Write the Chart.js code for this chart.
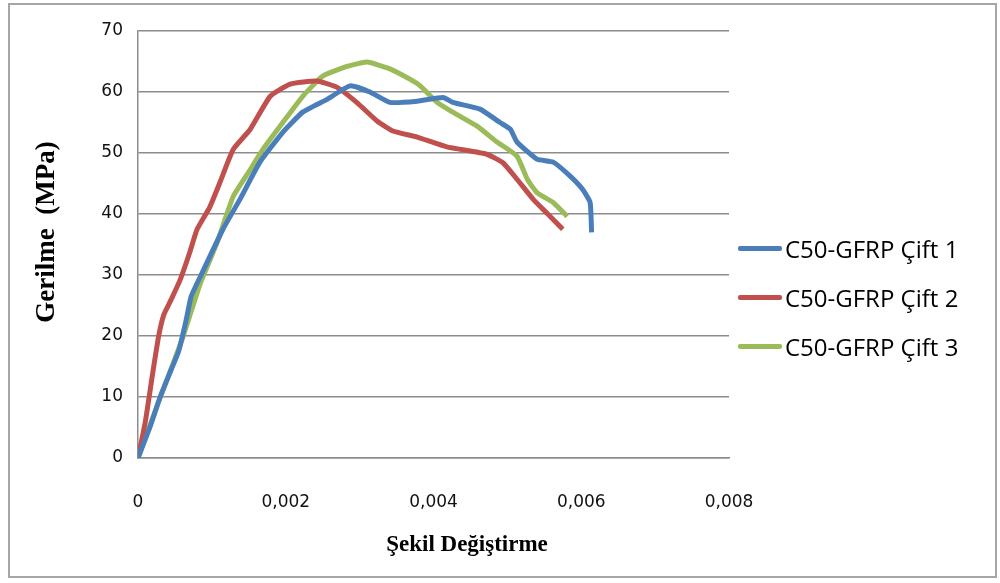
<!DOCTYPE html>
<html>
<head>
<meta charset="utf-8">
<script src="https://cdn.jsdelivr.net/npm/chart.js@4"></script>
<style>
  body { margin: 0; background: #fff; }
  #wrap { position: relative; width: 1000px; height: 583px; }
  #frame { position: absolute; left: 8px; top: 3px; width: 985px; height: 571px; border: 2px solid #a6a6a6; pointer-events: none; }
  #legend { position: absolute; left: 738px; top: 224px; font-family: "Open Sans", sans-serif; font-size: 24px; color: #000; }
  #legend div { display: flex; align-items: center; height: 49px; }
  #legend span.sw { display: inline-block; width: 44px; height: 5px; border-radius: 2px; margin-right: 3px; }
</style>
</head>
<body>
<div id="wrap">
  <canvas id="chart" width="1000" height="583"></canvas>
  <div id="frame"></div>
  <div id="legend"></div>
</div>
<script>
const seriesNames = ['C50-GFRP Çift 1', 'C50-GFRP Çift 2', 'C50-GFRP Çift 3'];
const seriesColors = ['#4a7ebb', '#c0504d', '#9bbb59'];

const strain1 = [0, 0.00016, 0.0003, 0.00045, 0.00055, 0.00065, 0.00072, 0.00087, 0.00115, 0.00138, 0.00165, 0.00196, 0.00223, 0.00256, 0.00287, 0.00314, 0.00341, 0.00378, 0.00413, 0.00426, 0.00463, 0.0049, 0.00504, 0.00513, 0.0054, 0.00562, 0.00585, 0.00602, 0.00612, 0.00614];
const stress1 = [0, 5, 10, 14.5, 17.5, 22.5, 26.5, 30.4, 37.5, 42.4, 48.5, 53.4, 56.7, 58.8, 61, 60, 58.3, 58.5, 59.1, 58.3, 57.2, 55, 53.9, 51.8, 49, 48.5, 46.2, 44, 41.9, 37];

const strain2 = [0, 0.0001, 0.0002, 0.00028, 0.00035, 0.00045, 0.00057, 0.0007, 0.0008, 0.00097, 0.00111, 0.00129, 0.00152, 0.00179, 0.00206, 0.00242, 0.00269, 0.00296, 0.00324, 0.00345, 0.00378, 0.00418, 0.00472, 0.00494, 0.00513, 0.00535, 0.00553, 0.00575];
const stress2 = [0, 6, 14, 20, 23.5, 26, 29.2, 33.7, 37.5, 41.1, 45.2, 50.6, 53.9, 59.3, 61.3, 61.8, 60.8, 58.3, 55.2, 53.6, 52.6, 51, 49.8, 48.4, 45.7, 42.4, 40.2, 37.5];

const strain3 = [0, 0.00016, 0.00034, 0.00047, 0.00061, 0.00084, 0.00107, 0.00129, 0.00152, 0.00169, 0.00196, 0.00223, 0.0025, 0.00283, 0.0031, 0.00341, 0.00368, 0.00382, 0.00405, 0.00426, 0.00459, 0.00486, 0.00513, 0.00527, 0.0054, 0.00562, 0.00581];
const stress3 = [0, 5.3, 11.2, 15.3, 19.9, 28.5, 35.3, 42.9, 47.3, 50.6, 55, 59.3, 62.6, 64.2, 64.9, 63.8, 62.1, 61, 58.3, 56.7, 54.4, 51.8, 49.5, 45.7, 43.5, 41.9, 39.6];

const xTicks = [0, 0.002, 0.004, 0.006, 0.008];
const yTicks = [0, 10, 20, 30, 40, 50, 60, 70];

function toPoints(xs, ys) {
    return xs.map((x, i) => ({ x: x, y: ys[i] }));
}

const allStrain = [strain1, strain2, strain3];
const allStress = [stress1, stress2, stress3];

const datasets = seriesNames.map((name, i) => ({
    label: name,
    data: toPoints(allStrain[i], allStress[i]),
    borderColor: seriesColors[i],
    backgroundColor: seriesColors[i],
    borderWidth: 5,
    pointRadius: 0,
    tension: 0.15,
    fill: false
}));

// axis titles drawn at the same spots as in the original
const axisTitles = {
    id: 'axisTitles',
    afterDraw(chart) {
        const ctx = chart.ctx;
        ctx.save();
        ctx.fillStyle = '#000';
        ctx.textAlign = 'center';
        ctx.textBaseline = 'middle';
        ctx.font = 'bold 23px "Liberation Serif", serif';
        ctx.fillText('Şekil Değiştirme', 467, 545);
        ctx.translate(47, 232);
        ctx.rotate(-Math.PI / 2);
        ctx.font = 'bold 27px "Liberation Serif", serif';
        ctx.fillText('Gerilme  (MPa)', 0, 0);
        ctx.restore();
    }
};

const config = {
    type: 'line',
    data: { datasets: datasets },
    options: {
        responsive: false,
        animation: false,
        layout: { padding: { left: 10, right: 271, top: 31, bottom: 0 } },
        plugins: {
            legend: { display: false },
            tooltip: { enabled: false }
        },
        scales: {
            x: {
                type: 'linear',
                min: 0,
                max: 0.008,
                afterBuildTicks: (scale) => { scale.ticks = xTicks.map(v => ({ value: v })); },
                afterFit: (scale) => { scale.height = 125; },
                grid: { display: false },
                border: { display: true, color: '#8c8c8c', width: 1.5 },
                ticks: {
                    padding: 26,
                    color: '#111',
                    font: { family: '"DejaVu Sans", sans-serif', size: 17 },
                    callback: (v) => v === 0 ? '0' : v.toFixed(3).replace('.', ',')
                }
            },
            y: {
                min: 0,
                max: 70,
                afterBuildTicks: (scale) => { scale.ticks = yTicks.map(v => ({ value: v })); },
                afterFit: (scale) => { scale.width = 128; },
                grid: { color: '#8c8c8c', lineWidth: 1.5, drawTicks: false },
                border: { display: true, color: '#8c8c8c', width: 1.5 },
                ticks: {
                    padding: 15,
                    color: '#111',
                    font: { family: '"DejaVu Sans", sans-serif', size: 17 }
                }
            }
        }
    },
    plugins: [axisTitles]
};

let ctx = document.getElementById('chart').getContext('2d');
const chart = new Chart(ctx, config);

const legendBox = document.getElementById('legend');
chart.data.datasets.forEach((ds) => {
    const row = document.createElement('div');
    const sw = document.createElement('span');
    sw.className = 'sw';
    sw.style.background = ds.borderColor;
    row.appendChild(sw);
    row.appendChild(document.createTextNode(ds.label));
    legendBox.appendChild(row);
});
</script>
</body>
</html>
